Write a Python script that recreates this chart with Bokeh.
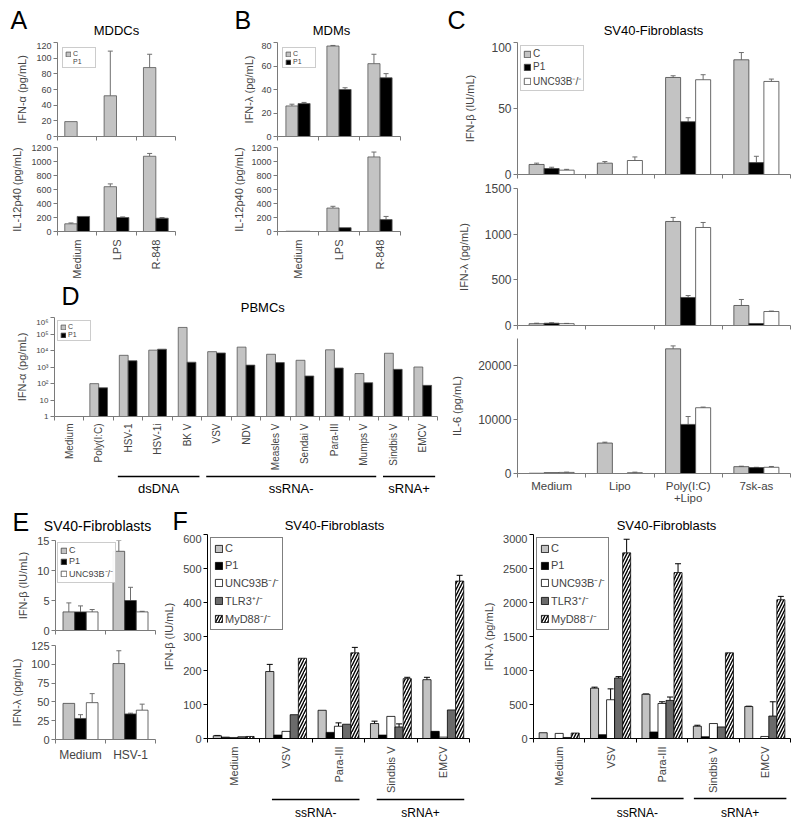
import math
from bokeh.plotting import figure
from bokeh.models import (Range1d, FixedTicker, Whisker, TeeHead, ColumnDataSource,
                          Legend, LegendItem)
from bokeh.layouts import row, column
from bokeh.embed import file_html
from bokeh.resources import INLINE
from bokeh.core.properties import value

FONT = "Liberation Sans"
GRAY = "#c3c3c3"
TGRAY = "#6e6e6e"
AXC = "#7a7a7a"
NAN = float("nan")

# ---------------- data ----------------
A_cats = ["Medium", "LPS", "R-848"]
A_ifna_C = [19, 52, 88]
A_ifna_C_err = [0, 57, 17]
A_ifna_P1 = [NAN, NAN, NAN]
A_il12_C = [110, 640, 1075]
A_il12_C_err = [12, 40, 40]
A_il12_P1 = [215, 200, 190]
A_il12_P1_err = [0, 8, 8]

B_cats = ["Medium", "LPS", "R-848"]
B_ifnl_C = [26, 77, 62]
B_ifnl_C_err = [1.5, 0.5, 8]
B_ifnl_P1 = [28, 40, 50]
B_ifnl_P1_err = [1, 1.5, 3.5]
B_il12_C = [4, 335, 1065]
B_il12_C_err = [0, 25, 70]
B_il12_P1 = [4, 55, 170]
B_il12_P1_err = [0, 0, 45]

C_cats = ["Medium", "Lipo", "Poly(I:C)\n+Lipo", "7sk-as"]
C_ifnb_C = [7.6, 8.6, 73.5, 86.9]
C_ifnb_C_err = [1, 1.2, 1.3, 5.5]
C_ifnb_P1 = [4.5, NAN, 40, 9]
C_ifnb_P1_err = [1, 0, 3, 4.8]
C_ifnb_U = [3.3, 10.6, 71.8, 70.5]
C_ifnb_U_err = [0.6, 2.7, 3.8, 1.8]
C_ifnl_C = [20, NAN, 1139, 219]
C_ifnl_C_err = [5, 0, 44, 66]
C_ifnl_P1 = [25, NAN, 307, 22]
C_ifnl_P1_err = [5, 0, 21, 0]
C_ifnl_U = [20, NAN, 1073, 153]
C_ifnl_U_err = [3, 0, 55, 5]
C_il6_C = [50, 5640, 23090, 1270]
C_il6_C_err = [0, 160, 540, 80]
C_il6_P1 = [150, NAN, 9090, 1090]
C_il6_P1_err = [0, 0, 1460, 60]
C_il6_U = [200, 150, 12180, 1150]
C_il6_U_err = [50, 100, 120, 150]

D_cats = ["Medium", "Poly(I:C)", "HSV-1", "HSV-1i", "BK V", "VSV", "NDV", "Measles V",
          "Sendai V", "Para-III", "Mumps V", "Sindbis V", "EMCV"]
D_ifna_C = [NAN, 98, 5100, 10500, 250000, 8500, 16000, 5900, 2550, 11000, 400, 6800, 1000]
D_ifna_P1 = [NAN, 55, 2400, 12000, 1950, 7100, 1300, 1850, 285, 870, 112, 720, 77]
D_groups = [("dsDNA", 2, 4), ("ssRNA-", 5, 10), ("sRNA+", 11, 12)]

E_cats = ["Medium", "HSV-1"]
E_ifnb_C = [3.1, 13.2]
E_ifnb_C_err = [1.5, 1.8]
E_ifnb_P1 = [3.1, 5.0]
E_ifnb_P1_err = [1.0, 2.2]
E_ifnb_U = [3.1, 3.1]
E_ifnb_U_err = [0.4, 0.1]
E_ifnl_C = [48, 101]
E_ifnl_C_err = [0, 17]
E_ifnl_P1 = [28, 34]
E_ifnl_P1_err = [5, 1]
E_ifnl_U = [49, 39]
E_ifnl_U_err = [12, 8]

F_cats = ["Medium", "VSV", "Para-III", "Sindbis V", "EMCV"]
F_groups = [("ssRNA-", 1, 2), ("sRNA+", 3, 4)]
F_ifnb_C = [8, 197, 83, 44, 173]
F_ifnb_C_err = [1, 21, 0, 7, 7]
F_ifnb_P1 = [4, 10, 18, 10, 21]
F_ifnb_U = [3, 21, 36, 65, 4]
F_ifnb_U_err = [0, 0, 10, 0, 0]
F_ifnb_T = [5, 70, 42, 34, 84]
F_ifnb_T_err = [0, 0, 0, 9, 0]
F_ifnb_M = [6, 236, 252, 176, 463]
F_ifnb_M_err = [0, 0, 16, 4, 17]
F_ifnl_C = [85, 740, 650, 180, 470]
F_ifnl_C_err = [0, 15, 5, 15, 5]
F_ifnl_P1 = [NAN, 55, 95, 25, NAN]
F_ifnl_U = [75, 570, 515, 220, 30]
F_ifnl_U_err = [0, 160, 25, 0, 0]
F_ifnl_T = [15, 890, 560, 170, 330]
F_ifnl_T_err = [0, 20, 50, 0, 210]
F_ifnl_M = [80, 2730, 2440, 1260, 2040]
F_ifnl_M_err = [0, 200, 130, 0, 50]

LEG_CP = ["C", "P1"]
LEG_CPU = ["C", "P1", "UNC93B\u207b/\u207b"]
LEG_F = ["C", "P1", "UNC93B\u207b/\u207b", "TLR3\u207a/\u207b", "MyD88\u207b/\u207b"]


# ---------------- helpers ----------------
def make_fig(w, h, l, r, t, b, n, y0, y1, ylog=False):
    p = figure(width=w, height=h, x_range=Range1d(-0.5, n - 0.5), y_range=Range1d(y0, y1),
               y_axis_type="log" if ylog else "linear", output_backend="svg",
               toolbar_location=None, min_border_left=l, min_border_right=r,
               min_border_top=t, min_border_bottom=b)
    p.outline_line_color = None
    p.xgrid.visible = False
    p.ygrid.visible = False
    return p


def style_axes(p, cats, yticks, ylabel, tick_size, cat_size, lab_size, show_x, axc,
               vertical=True, ylab_over=None, ylab_standoff=5, line_h=1.2, cat_standoff=4):
    n = len(cats)
    xa = p.xaxis[0]
    xa.ticker = FixedTicker(ticks=list(range(n)) if show_x else [],
                            minor_ticks=[i - 0.5 for i in range(n + 1)])
    xa.major_label_overrides = {i: c for i, c in enumerate(cats)}
    xa.major_tick_line_color = None
    xa.major_tick_out = 0
    xa.major_tick_in = 0
    xa.minor_tick_out = 4
    xa.minor_tick_in = 0
    xa.minor_tick_line_color = axc
    xa.axis_line_color = axc
    xa.major_label_text_font = FONT
    xa.major_label_text_font_size = cat_size
    xa.major_label_text_line_height = line_h
    xa.major_label_standoff = cat_standoff
    if vertical:
        xa.major_label_orientation = math.pi / 2
    ya = p.yaxis[0]
    ya.ticker = FixedTicker(ticks=yticks, minor_ticks=[])
    if ylab_over:
        ya.major_label_overrides = ylab_over
    ya.axis_label = ylabel
    ya.axis_label_text_font = FONT
    ya.axis_label_text_font_style = "normal"
    ya.axis_label_text_font_size = lab_size
    ya.axis_label_standoff = ylab_standoff
    ya.major_label_text_font = FONT
    ya.major_label_text_font_size = tick_size
    ya.major_label_standoff = 2
    ya.major_tick_out = 4
    ya.major_tick_in = 0
    ya.major_tick_line_color = axc
    ya.minor_tick_line_color = None
    ya.axis_line_color = axc


def add_bars(p, series, group_w, outline, errc, lw=0.8, bottom=0, head=5):
    k = len(series)
    bw = group_w / k
    rs = []
    for j, s in enumerate(series):
        off = -group_w / 2 + bw * (j + 0.5)
        vals = s["vals"]
        errs = s.get("errs") or [0] * len(vals)
        xs, tops, ex, elo, ehi = [], [], [], [], []
        for i, (v, e) in enumerate(zip(vals, errs)):
            if v is None or (isinstance(v, float) and math.isnan(v)):
                continue
            xs.append(i + off)
            tops.append(v)
            if e > 0:
                ex.append(i + off)
                elo.append(v)
                ehi.append(v + e)
        kw = dict(fill_color=s["fill"], line_color=outline, line_width=lw)
        if s.get("hatch"):
            kw.update(hatch_pattern="/", hatch_color="black", hatch_scale=6, hatch_weight=1.4)
        r = p.vbar(x="x", top="top", width=bw, bottom=bottom,
                   source=ColumnDataSource(dict(x=xs, top=tops)), **kw)
        rs.append(r)
        if ex:
            w = Whisker(source=ColumnDataSource(dict(x=ex, lo=elo, hi=ehi)), base="x",
                        lower="lo", upper="hi", dimension="height", line_color=errc,
                        line_width=1, lower_head=None,
                        upper_head=TeeHead(size=head, line_color=errc, line_width=1))
            p.add_layout(w)
    return rs


def add_legend(p, labels, rs, fsize, glyph, lh, spacing, padding, margin, bcolor):
    leg = Legend(items=[LegendItem(label=l, renderers=[r]) for l, r in zip(labels, rs)],
                 location="top_left")
    leg.label_text_font = FONT
    leg.label_text_font_size = fsize
    leg.glyph_width = glyph
    leg.glyph_height = glyph
    leg.label_height = lh
    leg.label_standoff = 2
    leg.spacing = spacing
    leg.padding = padding
    leg.margin = margin
    leg.border_line_color = bcolor
    leg.border_line_width = 1
    p.add_layout(leg)


def blank_fig(w, h, xr, l=0, r=0):
    p = figure(width=w, height=h, x_range=xr, y_range=Range1d(h, 0), output_backend="svg",
               toolbar_location=None, x_axis_location=None, y_axis_location=None,
               min_border_left=l, min_border_right=r, min_border_top=0, min_border_bottom=0)
    p.outline_line_color = None
    p.grid.visible = False
    return p


def put_text(p, xs, ys, texts, size, align, baseline):
    p.text(x=xs, y=ys, text=texts, text_font=value(FONT), text_font_size=value(size),
           text_align=value(align), text_baseline=value(baseline), text_color="black")


def header(w, h, letters, titles, lsize="25px", tsize="13px"):
    p = blank_fig(w, h, Range1d(0, w))
    put_text(p, [l[1] for l in letters], [l[2] for l in letters], [l[0] for l in letters],
             lsize, "left", "middle")
    for t in titles:
        put_text(p, [t[1]], [t[2]], [t[0]], t[3] if len(t) > 3 else tsize, "center", "middle")
    return p


def groups_fig(w, h, l, r, n, groups, yline, ytext, size, m0, m1):
    p = blank_fig(w, h, Range1d(-0.5, n - 0.5), l, r)
    x0 = [a - m0 for _, a, b in groups]
    x1 = [b + m1 for _, a, b in groups]
    p.segment(x0=x0, y0=[yline] * len(groups), x1=x1, y1=[yline] * len(groups),
              line_color="black", line_width=1.5)
    put_text(p, [(u + v) / 2 for u, v in zip(x0, x1)], [ytext] * len(groups),
             [g[0] for g in groups], size, "center", "middle")
    return p


def S(vals, errs=None, fill=GRAY, hatch=False):
    return dict(vals=vals, errs=errs, fill=fill, hatch=hatch)


# ---------------- headers ----------------
top_header = header(800, 42, [("A", 10, 19), ("B", 234, 19), ("C", 447, 19)],
                    [("MDDCs", 116, 30), ("MDMs", 331, 30), ("SV40-Fibroblasts", 653, 30)])
d_header = header(445, 36, [("D", 8, 14)], [("PBMCs", 242, 26)])
bottom_header = header(800, 28, [("E", 12, 15), ("F", 172, 14)],
                       [("SV40-Fibroblasts", 97, 19, "14px"), ("SV40-Fibroblasts", 334, 19),
                        ("SV40-Fibroblasts", 666, 19)])

# ---------------- panel A ----------------
a1 = make_fig(230, 99, 57, 55, 0, 5, 3, 0, 120)
style_axes(a1, A_cats, list(range(0, 121, 20)), "IFN-\u03b1 (pg/mL)", "9px", "11px", "11px", False, AXC)
rs = add_bars(a1, [S(A_ifna_C, A_ifna_C_err), S(A_ifna_P1, fill="black")], 0.63, "#555555", TGRAY)
add_legend(a1, LEG_CP, rs, "7px", 6, 7, 1, 2, 5, "#999999")

a2 = make_fig(230, 140, 57, 55, 6, 47, 3, 0, 1200)
style_axes(a2, A_cats, list(range(0, 1201, 200)), "IL-12p40 (pg/mL)", "9px", "11px", "11px", True, AXC)
add_bars(a2, [S(A_il12_C, A_il12_C_err), S(A_il12_P1, A_il12_P1_err, fill="black")], 0.63, "#555555", TGRAY)

# ---------------- panel B ----------------
b1 = make_fig(215, 99, 47, 45, 0, 5, 3, 0, 80)
style_axes(b1, B_cats, list(range(0, 81, 20)), "IFN-\u03bb (pg/mL)", "9px", "11px", "11px", False, AXC,
           ylab_standoff=3)
rs = add_bars(b1, [S(B_ifnl_C, B_ifnl_C_err), S(B_ifnl_P1, B_ifnl_P1_err, fill="black")], 0.59, "#555555", TGRAY)
add_legend(b1, LEG_CP, rs, "7px", 6, 7, 1, 2, 5, "#999999")

b2 = make_fig(215, 140, 47, 45, 6, 47, 3, 0, 1200)
style_axes(b2, B_cats, list(range(0, 1201, 200)), "IL-12p40 (pg/mL)", "9px", "11px", "11px", True, AXC,
           ylab_standoff=3)
add_bars(b2, [S(B_il12_C, B_il12_C_err), S(B_il12_P1, B_il12_P1_err, fill="black")], 0.59, "#555555", TGRAY)

# ---------------- panel D ----------------
d = make_fig(445, 157, 54, 8, 0, 58, len(D_cats), 1, 1e6, ylog=True)
d_over = {1: "1", 10: "10", 100: "10\u00b2", 1000: "10\u00b3", 10000: "10\u2074",
          100000: "10\u2075", 1000000: "10\u2076"}
style_axes(d, D_cats, [1, 10, 100, 1000, 10000, 100000, 1000000], "IFN-\u03b1 (pg/mL)", "8px", "10px",
           "11px", True, AXC, ylab_over=d_over, cat_standoff=3)
rs = add_bars(d, [S(D_ifna_C), S(D_ifna_P1, fill="black")], 0.6, "#555555", TGRAY, bottom=1)
add_legend(d, LEG_CP, rs, "7px", 6, 7, 1, 2, 3, "#999999")
dg = groups_fig(445, 32, 54, 8, len(D_cats), D_groups, 2, 14, "13px", 0.35, 0.42)

# ---------------- panel C ----------------
c1 = make_fig(355, 139, 72, 10, 0, 7, 4, 0, 100)
style_axes(c1, C_cats, [0, 50, 100], "IFN-\u03b2 (IU/mL)", "12px", "12px", "11px", False, AXC,
           ylab_standoff=12)
rs = add_bars(c1, [S(C_ifnb_C, C_ifnb_C_err), S(C_ifnb_P1, C_ifnb_P1_err, fill="black"),
                   S(C_ifnb_U, C_ifnb_U_err, fill="white")], 0.66, "#444444", TGRAY)
add_legend(c1, LEG_CPU, rs, "10px", 8, 11, 2, 2, 3, "#999999")

c2 = make_fig(355, 152, 72, 10, 7, 8, 4, 0, 1500)
style_axes(c2, C_cats, [0, 500, 1000, 1500], "IFN-\u03bb (pg/mL)", "12px", "12px", "11px", False, AXC,
           ylab_standoff=12)
add_bars(c2, [S(C_ifnl_C, C_ifnl_C_err), S(C_ifnl_P1, C_ifnl_P1_err, fill="black"),
              S(C_ifnl_U, C_ifnl_U_err, fill="white")], 0.66, "#444444", TGRAY)

c3 = make_fig(355, 173, 72, 10, 5, 31, 4, 0, 25000)
style_axes(c3, C_cats, [0, 10000, 20000], "IL-6 (pg/mL)", "12px", "11.5px", "11px", True, AXC,
           vertical=False, ylab_standoff=12, line_h=1.0, cat_standoff=2)
add_bars(c3, [S(C_il6_C, C_il6_C_err), S(C_il6_P1, C_il6_P1_err, fill="black"),
              S(C_il6_U, C_il6_U_err, fill="white")], 0.66, "#444444", TGRAY)

# ---------------- panel E ----------------
e1 = make_fig(160, 103, 55, 5, 6, 7, 2, 0, 15)
style_axes(e1, E_cats, [0, 5, 10, 15], "IFN-\u03b2 (IU/mL)", "11px", "12px", "11px", False, AXC)
rs = add_bars(e1, [S(E_ifnb_C, E_ifnb_C_err), S(E_ifnb_P1, E_ifnb_P1_err, fill="black"),
                   S(E_ifnb_U, E_ifnb_U_err, fill="white")], 0.7, "#444444", TGRAY)
add_legend(e1, LEG_CPU, rs, "9px", 7, 10, 1, 2, 2, "#999999")

e2 = make_fig(160, 190, 55, 5, 8, 88, 2, 0, 125)
style_axes(e2, E_cats, [0, 25, 50, 75, 100, 125], "IFN-\u03bb (pg/mL)", "11px", "12px", "11px", True, AXC,
           vertical=False)
add_bars(e2, [S(E_ifnl_C, E_ifnl_C_err), S(E_ifnl_P1, E_ifnl_P1_err, fill="black"),
              S(E_ifnl_U, E_ifnl_U_err, fill="white")], 0.7, "#444444", TGRAY)

# ---------------- panel F ----------------
f1 = make_fig(318, 261, 46, 9, 0, 56, 5, 0, 600)
style_axes(f1, F_cats, list(range(0, 601, 100)), "IFN-\u03b2 (IU/mL)", "11px", "11px", "11px", True, "black")
rs = add_bars(f1, [S(F_ifnb_C, F_ifnb_C_err), S(F_ifnb_P1, fill="black"), S(F_ifnb_U, F_ifnb_U_err, fill="white"),
                   S(F_ifnb_T, F_ifnb_T_err, fill="#6a6a6a"), S(F_ifnb_M, F_ifnb_M_err, fill="white", hatch=True)],
              0.78, "black", "black", head=6)
add_legend(f1, LEG_F, rs, "11px", 9, 14, 3, 3, 3, "black")
f1g = groups_fig(318, 32, 46, 9, 5, F_groups, 4, 17, "12px", 0.27, 0.4)

f2 = make_fig(322, 261, 55, 10, 0, 55, 5, 0, 3000)
style_axes(f2, F_cats, list(range(0, 3001, 500)), "IFN-\u03bb (pg/mL)", "11px", "11px", "11px", True, "black")
rs = add_bars(f2, [S(F_ifnl_C, F_ifnl_C_err), S(F_ifnl_P1, fill="black"), S(F_ifnl_U, F_ifnl_U_err, fill="white"),
                   S(F_ifnl_T, F_ifnl_T_err, fill="#6a6a6a"), S(F_ifnl_M, F_ifnl_M_err, fill="white", hatch=True)],
              0.78, "black", "black", head=6)
add_legend(f2, LEG_F, rs, "11px", 9, 14, 3, 3, 3, "black")
f2g = groups_fig(322, 32, 55, 10, 5, F_groups, 3, 17, "12px", 0.38, 0.42)

# ---------------- layout ----------------
top_left = column(row(column(a1, a2), column(b1, b2)), d_header, d, dg)
top = column(top_header, row(top_left, column(c1, c2, c3)))
bottom = column(bottom_header, row(column(e1, e2), column(f1, f1g), column(f2, f2g)))
layout = column(top, bottom)

open("out.html", "w").write(file_html(layout, INLINE))
